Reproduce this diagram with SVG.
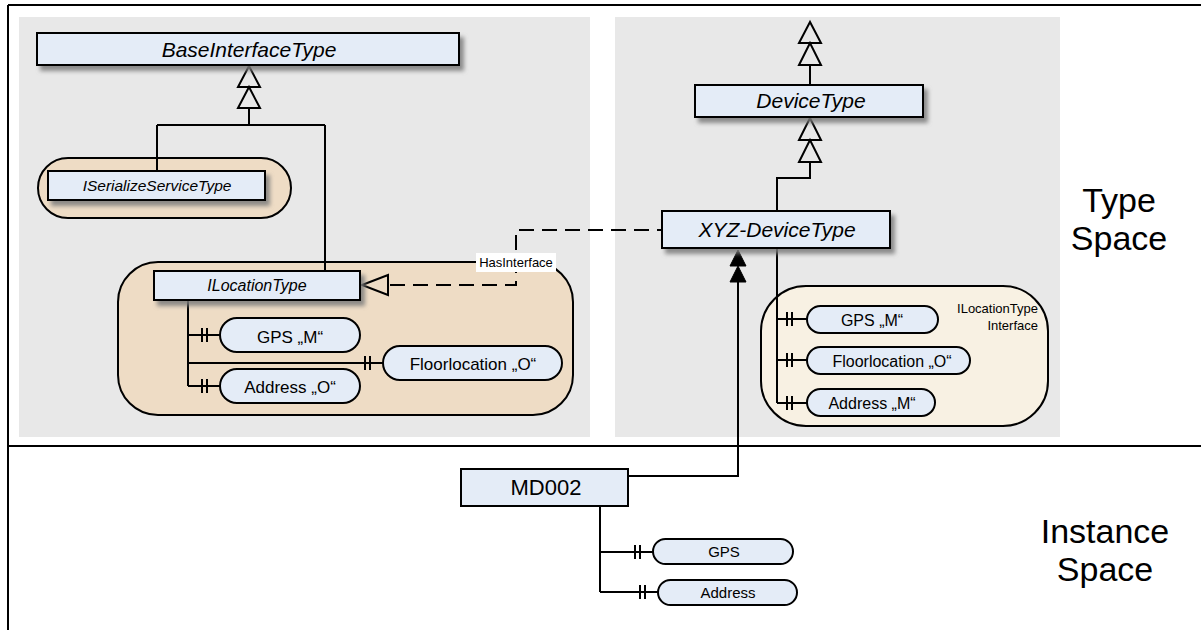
<svg xmlns="http://www.w3.org/2000/svg" width="1201" height="630" viewBox="0 0 1201 630">
<defs>
<style>
.panel{fill:#E8E8E8;stroke:none}
.box{fill:#E4ECF7;stroke:#000;stroke-width:2}
.pill{fill:#E4ECF7;stroke:#000;stroke-width:2}
.contA{fill:#EEDCC5;stroke:#000;stroke-width:2}
.contB{fill:#F8F1E3;stroke:#000;stroke-width:2}
.ln{fill:none;stroke:#000;stroke-width:2}
.dash{fill:none;stroke:#000;stroke-width:2;stroke-dasharray:15 8}
.tri{fill:none;stroke:#000;stroke-width:2;stroke-linejoin:miter}
.ftri{fill:#000;stroke:#000;stroke-width:1}
.t{font-family:"Liberation Sans",Arial,sans-serif;fill:#000;text-anchor:middle}
.it{font-style:italic}
.big{font-family:"Liberation Sans",Arial,sans-serif;font-size:34px;text-anchor:middle;fill:#000}
</style>
<filter id="sh" x="-10%" y="-30%" width="130%" height="180%">
<feDropShadow dx="4" dy="5" stdDeviation="2" flood-color="#7a7a7a" flood-opacity="0.85"/>
</filter>
</defs>

<!-- frame -->
<g id="frame">
<rect class="panel" x="19" y="17" width="571" height="420"/>
<rect class="panel" x="615" y="17" width="445" height="420"/>
<path class="ln" d="M8,5 H1201 M8,5 V630 M8,446 H1201"/>
</g>

<!-- containers -->
<g id="serialize-container"><rect class="contA" x="38" y="158" width="253" height="60" rx="30"/></g>
<g id="ilocation-container"><rect class="contA" x="118" y="262" width="455" height="153" rx="40"/></g>
<g id="xyz-interface-container">
<rect class="contB" x="761" y="286" width="287" height="140" rx="45"/>
<text class="t" x="1038" y="313" font-size="13" style="text-anchor:end">ILocationType</text>
<text class="t" x="1038" y="330" font-size="13" style="text-anchor:end">Interface</text>
</g>

<!-- connectors -->
<g id="connectors">
<polygon class="tri" points="249,66 238,87 260,87"/>
<polygon class="tri" points="249,87 238,108 260,108"/>
<path class="ln" d="M249,108 V125 M157,125 H325 M157,125 V171 M325,125 V271"/>
<path class="dash" d="M390,285 H516 V230 H662"/>
<polygon class="tri" points="362,285 388,275 388,295"/>
<rect x="476" y="253" width="80" height="19" fill="#fff"/>
<text class="t" x="516" y="267" font-size="13">HasInterface</text>
<path class="ln" d="M188,300 V386 M188,335 H220 M188,363 H383 M188,386 H220"/>
<path class="ln" d="M202,328 V342 M207,328 V342 M365,356 V370 M370,356 V370 M202,379 V393 M207,379 V393"/>
<polygon class="tri" points="810,22 799,43 821,43"/>
<polygon class="tri" points="810,43 799,65 821,65"/>
<path class="ln" d="M810,65 V85"/>
<polygon class="tri" points="810,118 799,140 821,140"/>
<polygon class="tri" points="810,140 799,162 821,162"/>
<path class="ln" d="M810,162 V178 H777 V211"/>
<path class="ln" d="M777,248 V403 M777,319 H807 M777,360 H807 M777,403 H807"/>
<path class="ln" d="M787,312 V326 M792,312 V326 M787,353 V367 M792,353 V367 M787,396 V410 M792,396 V410"/>
<path class="ln" d="M628,476 H738 V281"/>
<polygon class="ftri" points="738,250 730,266 746,266"/>
<polygon class="ftri" points="738,266 730,282 746,282"/>
<path class="ln" d="M600,506 V592 M600,552 H653 M600,592 H658"/>
<path class="ln" d="M635,545 V559 M640,545 V559 M640,585 V599 M645,585 V599"/>
</g>

<!-- nodes -->
<g id="BaseInterfaceType">
<rect class="box" x="37" y="33" width="422" height="32" filter="url(#sh)"/>
<text class="t it" x="249" y="57" font-size="21">BaseInterfaceType</text>
</g>
<g id="ISerializeServiceType">
<rect class="box" x="48" y="171" width="217" height="29" filter="url(#sh)"/>
<text class="t it" x="157" y="191" font-size="15.5">ISerializeServiceType</text>
</g>
<g id="ILocationType">
<rect class="box" x="154" y="271" width="206" height="29" filter="url(#sh)"/>
<text class="t it" x="257" y="291" font-size="16">ILocationType</text>
</g>
<g id="GPS-L">
<rect class="pill" x="220" y="318" width="140" height="34" rx="17"/>
<text class="t" x="290" y="343" font-size="17">GPS  „M“</text>
</g>
<g id="Floorlocation-L">
<rect class="pill" x="383" y="346" width="179" height="34" rx="17"/>
<text class="t" x="473" y="370" font-size="17">Floorlocation „O“</text>
</g>
<g id="Address-L">
<rect class="pill" x="220" y="369" width="140" height="34" rx="17"/>
<text class="t" x="290" y="393" font-size="17">Address „O“</text>
</g>
<g id="DeviceType">
<rect class="box" x="695" y="85" width="228" height="32" filter="url(#sh)"/>
<text class="t it" x="811" y="108" font-size="21">DeviceType</text>
</g>
<g id="XYZ-DeviceType">
<rect class="box" x="662" y="211" width="228" height="37" filter="url(#sh)"/>
<text class="t it" x="777" y="237" font-size="21">XYZ-DeviceType</text>
</g>
<g id="GPS-R">
<rect class="pill" x="807" y="306" width="131" height="27" rx="13.5"/>
<text class="t" x="872" y="326" font-size="16">GPS „M“</text>
</g>
<g id="Floorlocation-R">
<rect class="pill" x="807" y="347" width="163" height="27" rx="13.5"/>
<text class="t" x="892" y="367" font-size="16">Floorlocation „O“</text>
</g>
<g id="Address-R">
<rect class="pill" x="807" y="389" width="128" height="27" rx="13.5"/>
<text class="t" x="872" y="409" font-size="16">Address „M“</text>
</g>
<g id="MD002">
<rect class="box" x="461" y="469" width="167" height="37"/>
<text class="t" x="546" y="495" font-size="22">MD002</text>
</g>
<g id="GPS-I">
<rect class="pill" x="653" y="539" width="140" height="25" rx="12.5"/>
<text class="t" x="724" y="557" font-size="15">GPS</text>
</g>
<g id="Address-I">
<rect class="pill" x="658" y="580" width="139" height="25" rx="12.5"/>
<text class="t" x="728" y="598" font-size="15">Address</text>
</g>

<!-- space labels -->
<g id="labels">
<text class="big" x="1119" y="212">Type</text>
<text class="big" x="1119" y="250">Space</text>
<text class="big" x="1105" y="543">Instance</text>
<text class="big" x="1105" y="581">Space</text>
</g>
</svg>
